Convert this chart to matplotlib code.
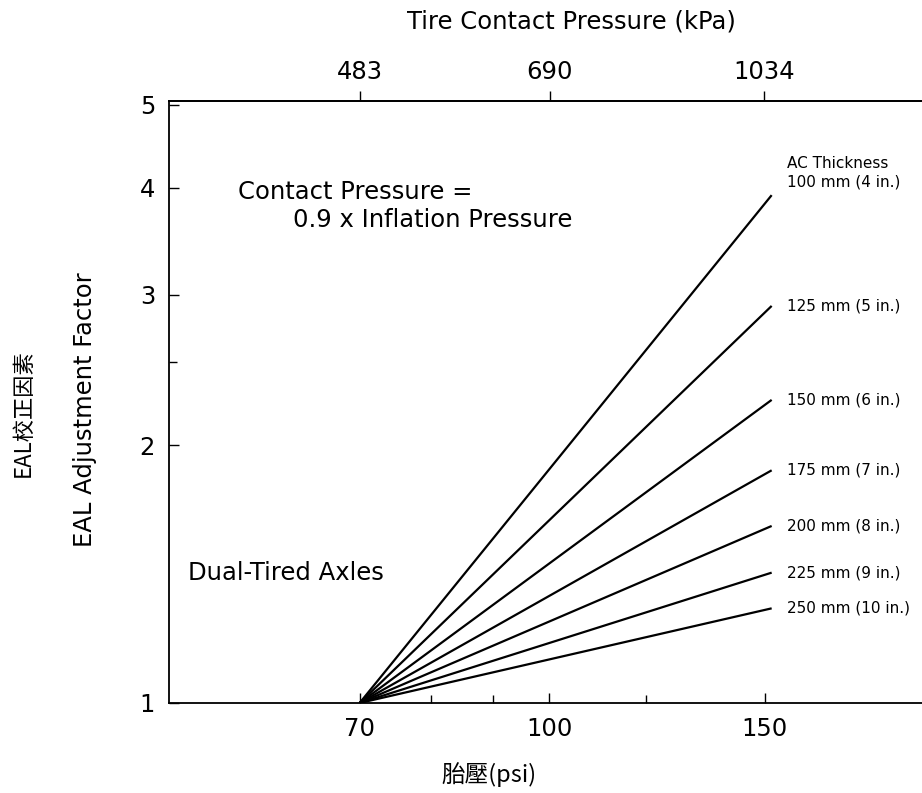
import numpy as np
import matplotlib
matplotlib.use("Agg")
import matplotlib.pyplot as plt
from matplotlib.ticker import FixedLocator, NullLocator, NullFormatter, FixedFormatter

# ---------------- data ----------------
thickness_labels = ["100 mm (4 in.)", "125 mm (5 in.)", "150 mm (6 in.)",
                    "175 mm (7 in.)", "200 mm (8 in.)", "225 mm (9 in.)",
                    "250 mm (10 in.)"]
pressure_psi = [70, 152]                       # start / end of each line
factor_start = 1.0
factor_end = [3.92, 2.91, 2.26, 1.87, 1.61, 1.42, 1.29]

psi_ticks = [70, 100, 150]
psi_minor = [80, 90, 120]
kpa_ticks = [483, 690, 1034]
factor_ticks = [1, 2, 3, 4, 5]
factor_minor = [2.5]
PSI_TO_KPA = 6.895

# ---------------- figure ----------------
W, H = 922, 793
fig = plt.figure(figsize=(W / 100, H / 100), dpi=100)
left_px, right_px, top_px, bottom_px = 169, 922, 101, 703
ax = fig.add_axes([left_px / W, 1 - bottom_px / H,
                   (right_px - left_px) / W, (bottom_px - top_px) / H])

for y_end, lab in zip(factor_end, thickness_labels):
    ax.plot(pressure_psi, [factor_start, y_end], color="black", lw=1.6,
            solid_capstyle="butt")

ax.set_xscale("log")
ax.set_yscale("log")
ax.set_xlim(48.9, 201.7)
ax.set_ylim(1.0, 5.05)

big = 17.5
ax.xaxis.set_major_locator(FixedLocator(psi_ticks))
ax.xaxis.set_major_formatter(FixedFormatter([str(t) for t in psi_ticks]))
ax.xaxis.set_minor_locator(FixedLocator(psi_minor))
ax.xaxis.set_minor_formatter(NullFormatter())
ax.yaxis.set_major_locator(FixedLocator(factor_ticks))
ax.yaxis.set_major_formatter(FixedFormatter([str(t) for t in factor_ticks]))
ax.yaxis.set_minor_locator(FixedLocator(factor_minor))
ax.yaxis.set_minor_formatter(NullFormatter())

ax.tick_params(axis="both", which="both", direction="in", labelsize=big,
               width=1.0, top=False, right=False)
ax.tick_params(axis="both", which="major", length=7, pad=10)
ax.tick_params(axis="both", which="minor", length=6)

for side in ["left", "bottom", "top"]:
    ax.spines[side].set_linewidth(1.3)
ax.spines["right"].set_visible(False)

# top axis in kPa
sec = ax.secondary_xaxis("top", functions=(lambda x: x * PSI_TO_KPA,
                                           lambda k: k / PSI_TO_KPA))
sec.xaxis.set_major_locator(FixedLocator(kpa_ticks))
sec.xaxis.set_major_formatter(FixedFormatter([str(t) for t in kpa_ticks]))
sec.xaxis.set_minor_locator(NullLocator())
sec.xaxis.set_minor_formatter(NullFormatter())
sec.tick_params(axis="x", direction="out", length=7, width=1.0, pad=5,
                labelsize=big)
sec.spines["top"].set_linewidth(1.3)

# line labels
for i, (y_end, lab) in enumerate(zip(factor_end, thickness_labels)):
    if i == 0:
        ax.annotate("AC Thickness\n" + lab, xy=(pressure_psi[-1], y_end),
                    xytext=(11, 16), textcoords="offset points",
                    ha="left", va="center", fontsize=11, linespacing=1.25)
    else:
        ax.annotate(lab, xy=(pressure_psi[-1], y_end),
                    xytext=(11, 0), textcoords="offset points",
                    ha="left", va="center", fontsize=11)

# annotations inside plot
ax.text(0.0916, 0.849, "Contact Pressure =", transform=ax.transAxes,
        ha="left", va="center", fontsize=big)
ax.text(0.165, 0.802, "0.9 x Inflation Pressure", transform=ax.transAxes,
        ha="left", va="center", fontsize=big)
ax.text(0.025, 0.216, "Dual-Tired Axles", transform=ax.transAxes,
        ha="left", va="center", fontsize=big)

# axis titles
fig.text(571 / W, 1 - 22 / H, "Tire Contact Pressure (kPa)", ha="center",
         va="center", fontsize=big)
fig.text(85 / W, 1 - 410 / H, "EAL Adjustment Factor", ha="center",
         va="center", rotation=90, fontsize=big)
fig.text(23 / W, 1 - 413 / H, "EAL校正因素", ha="center", va="center",
         rotation=90, fontsize=16, family=["Noto Sans CJK TC", "DejaVu Sans"])
fig.text(489 / W, 1 - 775 / H, "胎壓(psi)", ha="center", va="center",
         fontsize=17, family=["Noto Sans CJK TC", "DejaVu Sans"])

fig.savefig("out.png", dpi=100)
